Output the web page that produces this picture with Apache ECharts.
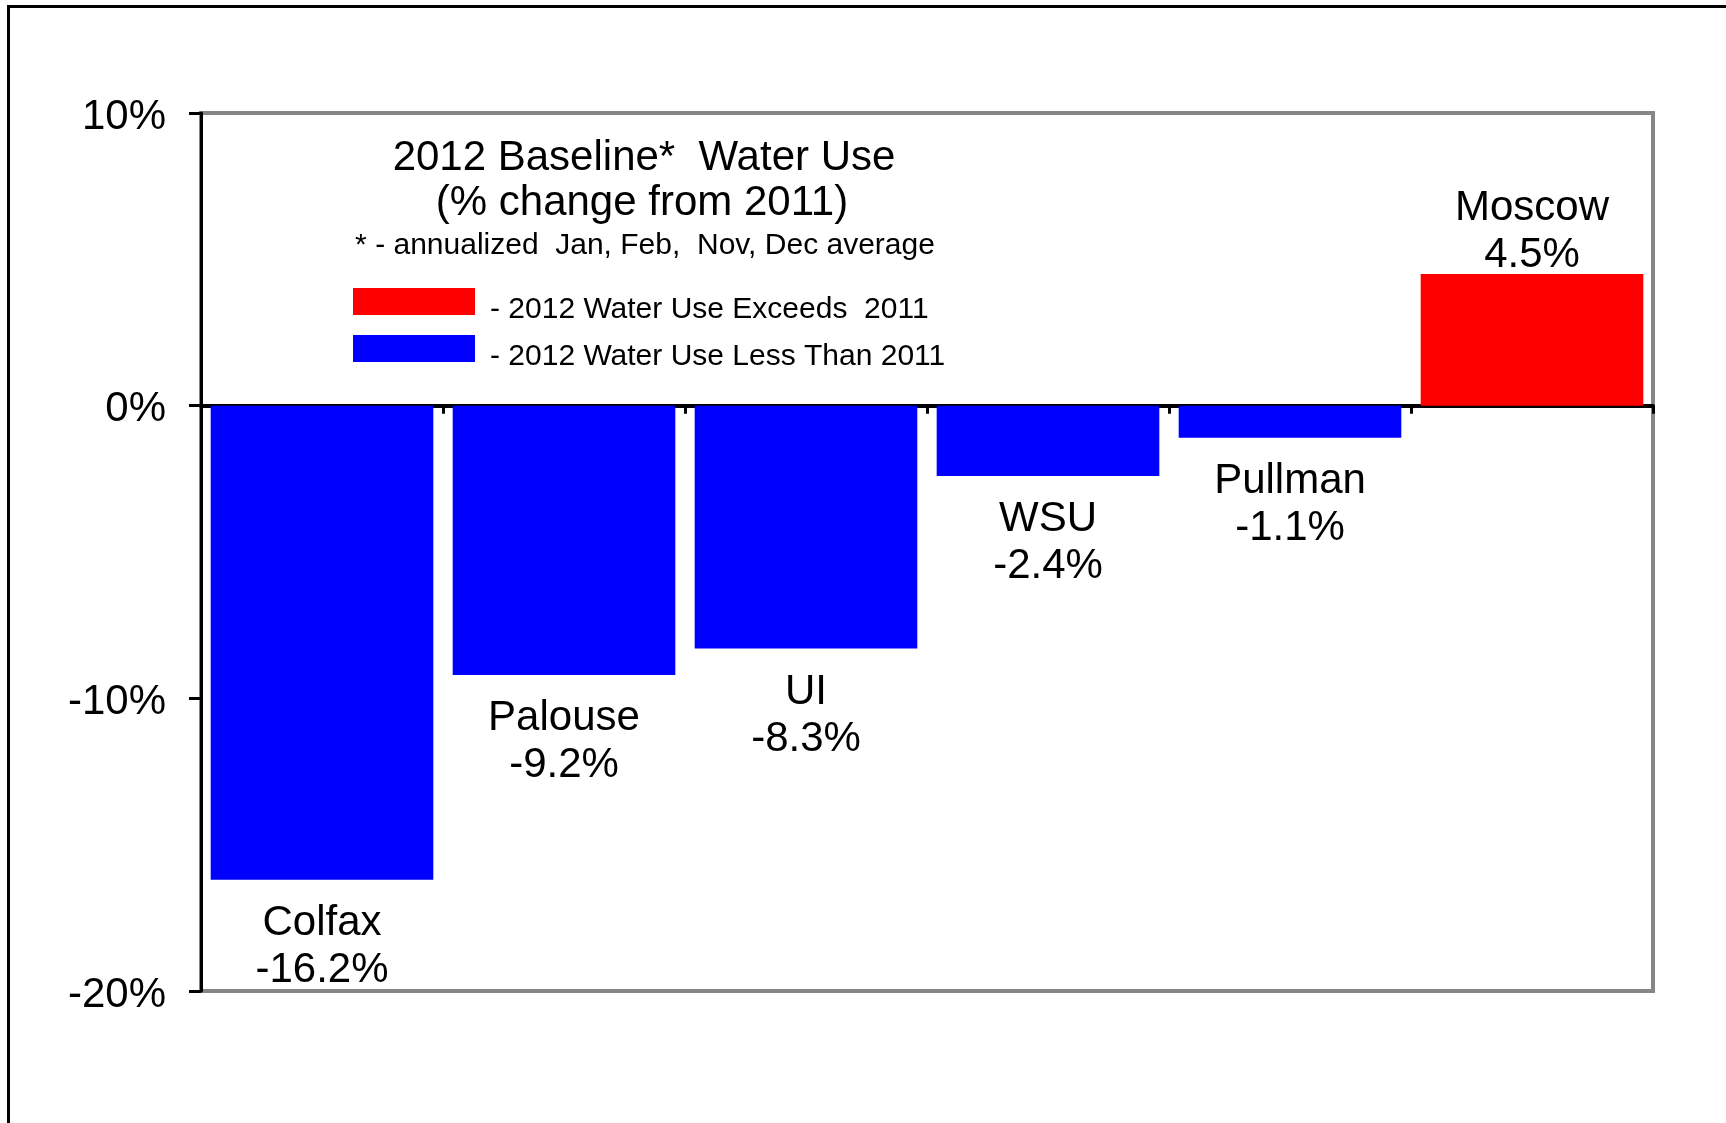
<!DOCTYPE html>
<html>
<head>
<meta charset="utf-8">
<script src="https://cdn.jsdelivr.net/npm/echarts@6/dist/echarts.min.js"></script>
<style>
html,body{margin:0;padding:0;background:#fff;}
#chart{width:1726px;height:1123px;}
</style>
</head>
<body>
<div id="chart"></div>
<script>
const categories = ['Colfax', 'Palouse', 'UI', 'WSU', 'Pullman', 'Moscow'];
const values = [-16.2, -9.2, -8.3, -2.4, -1.1, 4.5];
const yTicks = { min: -20, max: 10, interval: 10 };
const titleLines = ['2012 Baseline*  Water Use', '(% change from 2011)'];
const subtitle = '* - annualized  Jan, Feb,  Nov, Dec average';
const seriesNames = ['2012 Water Use Exceeds  2011', '2012 Water Use Less Than 2011'];

const FONT = '"Liberation Sans", Arial, sans-serif';
const upData = values.map(v => v > 0 ? v : '-');
const downData = values.map(v => v <= 0 ? v : '-');
const fmt = p => p.name + '\n' + p.value + '%';

const chart = echarts.init(document.getElementById('chart'));
chart.setOption({
  backgroundColor: '#fff',
  animation: false,
  textStyle: { fontFamily: FONT, color: '#000' },
  grid: { left: 201, right: 73, top: 113, bottom: 132, show: true, borderColor: '#868686', borderWidth: 4, backgroundColor: 'transparent' },
  graphic: [
    { type: 'rect', shape: { x: 8.5, y: 6.5, width: 3000, height: 3000 }, style: { fill: 'none', stroke: '#000', lineWidth: 3 }, z: 0 },
    { type: 'text', x: 644, y: 158, style: { text: titleLines[0], font: '42px ' + FONT, fill: '#000', textAlign: 'center', textVerticalAlign: 'middle' }, z: 10 },
    { type: 'text', x: 642, y: 203, style: { text: titleLines[1], font: '42px ' + FONT, fill: '#000', textAlign: 'center', textVerticalAlign: 'middle' }, z: 10 },
    { type: 'text', x: 645, y: 246, style: { text: subtitle, font: '30px ' + FONT, fill: '#000', textAlign: 'center', textVerticalAlign: 'middle' }, z: 10 }
  ],
  legend: {
    orient: 'vertical',
    left: 348, top: 283,
    itemWidth: 122, itemHeight: 27, itemGap: 10,
    icon: 'rect',
    formatter: n => '{a|- ' + n + '}',
    textStyle: {
      fontSize: 30, color: '#000', fontFamily: FONT,
      rich: { a: { fontSize: 30, color: '#000', fontFamily: FONT, padding: [17, 0, 0, 10] } }
    },
    data: seriesNames
  },
  xAxis: {
    type: 'category',
    data: categories,
    axisLine: { onZero: true, lineStyle: { color: '#000', width: 4 } },
    axisTick: { show: true, length: 8, lineStyle: { color: '#000', width: 3 } },
    axisLabel: { show: false },
    splitLine: { show: false }
  },
  yAxis: {
    type: 'value',
    min: yTicks.min, max: yTicks.max, interval: yTicks.interval,
    axisLine: { show: true, lineStyle: { color: '#000', width: 3 } },
    axisTick: { show: true, length: 12, lineStyle: { color: '#000', width: 3 } },
    axisLabel: {
      formatter: v => '{a|' + v + '%}', margin: 35,
      rich: { a: { fontSize: 42, color: '#000', fontFamily: FONT, padding: [8, 0, 0, 0] } }
    },
    splitLine: { show: false }
  },
  series: [
    {
      name: seriesNames[0], type: 'bar', data: upData, barWidth: '92%', barGap: '-100%',
      itemStyle: { color: '#FF0000' },
      label: { show: true, position: 'top', distance: -5, formatter: fmt, fontSize: 42, lineHeight: 47, color: '#000', fontFamily: FONT }
    },
    {
      name: seriesNames[1], type: 'bar', data: downData, barWidth: '92%', barGap: '-100%',
      itemStyle: { color: '#0000FF' },
      label: { show: true, position: 'bottom', distance: 20, formatter: fmt, fontSize: 42, lineHeight: 47, color: '#000', fontFamily: FONT }
    }
  ]
});
</script>
</body>
</html>
